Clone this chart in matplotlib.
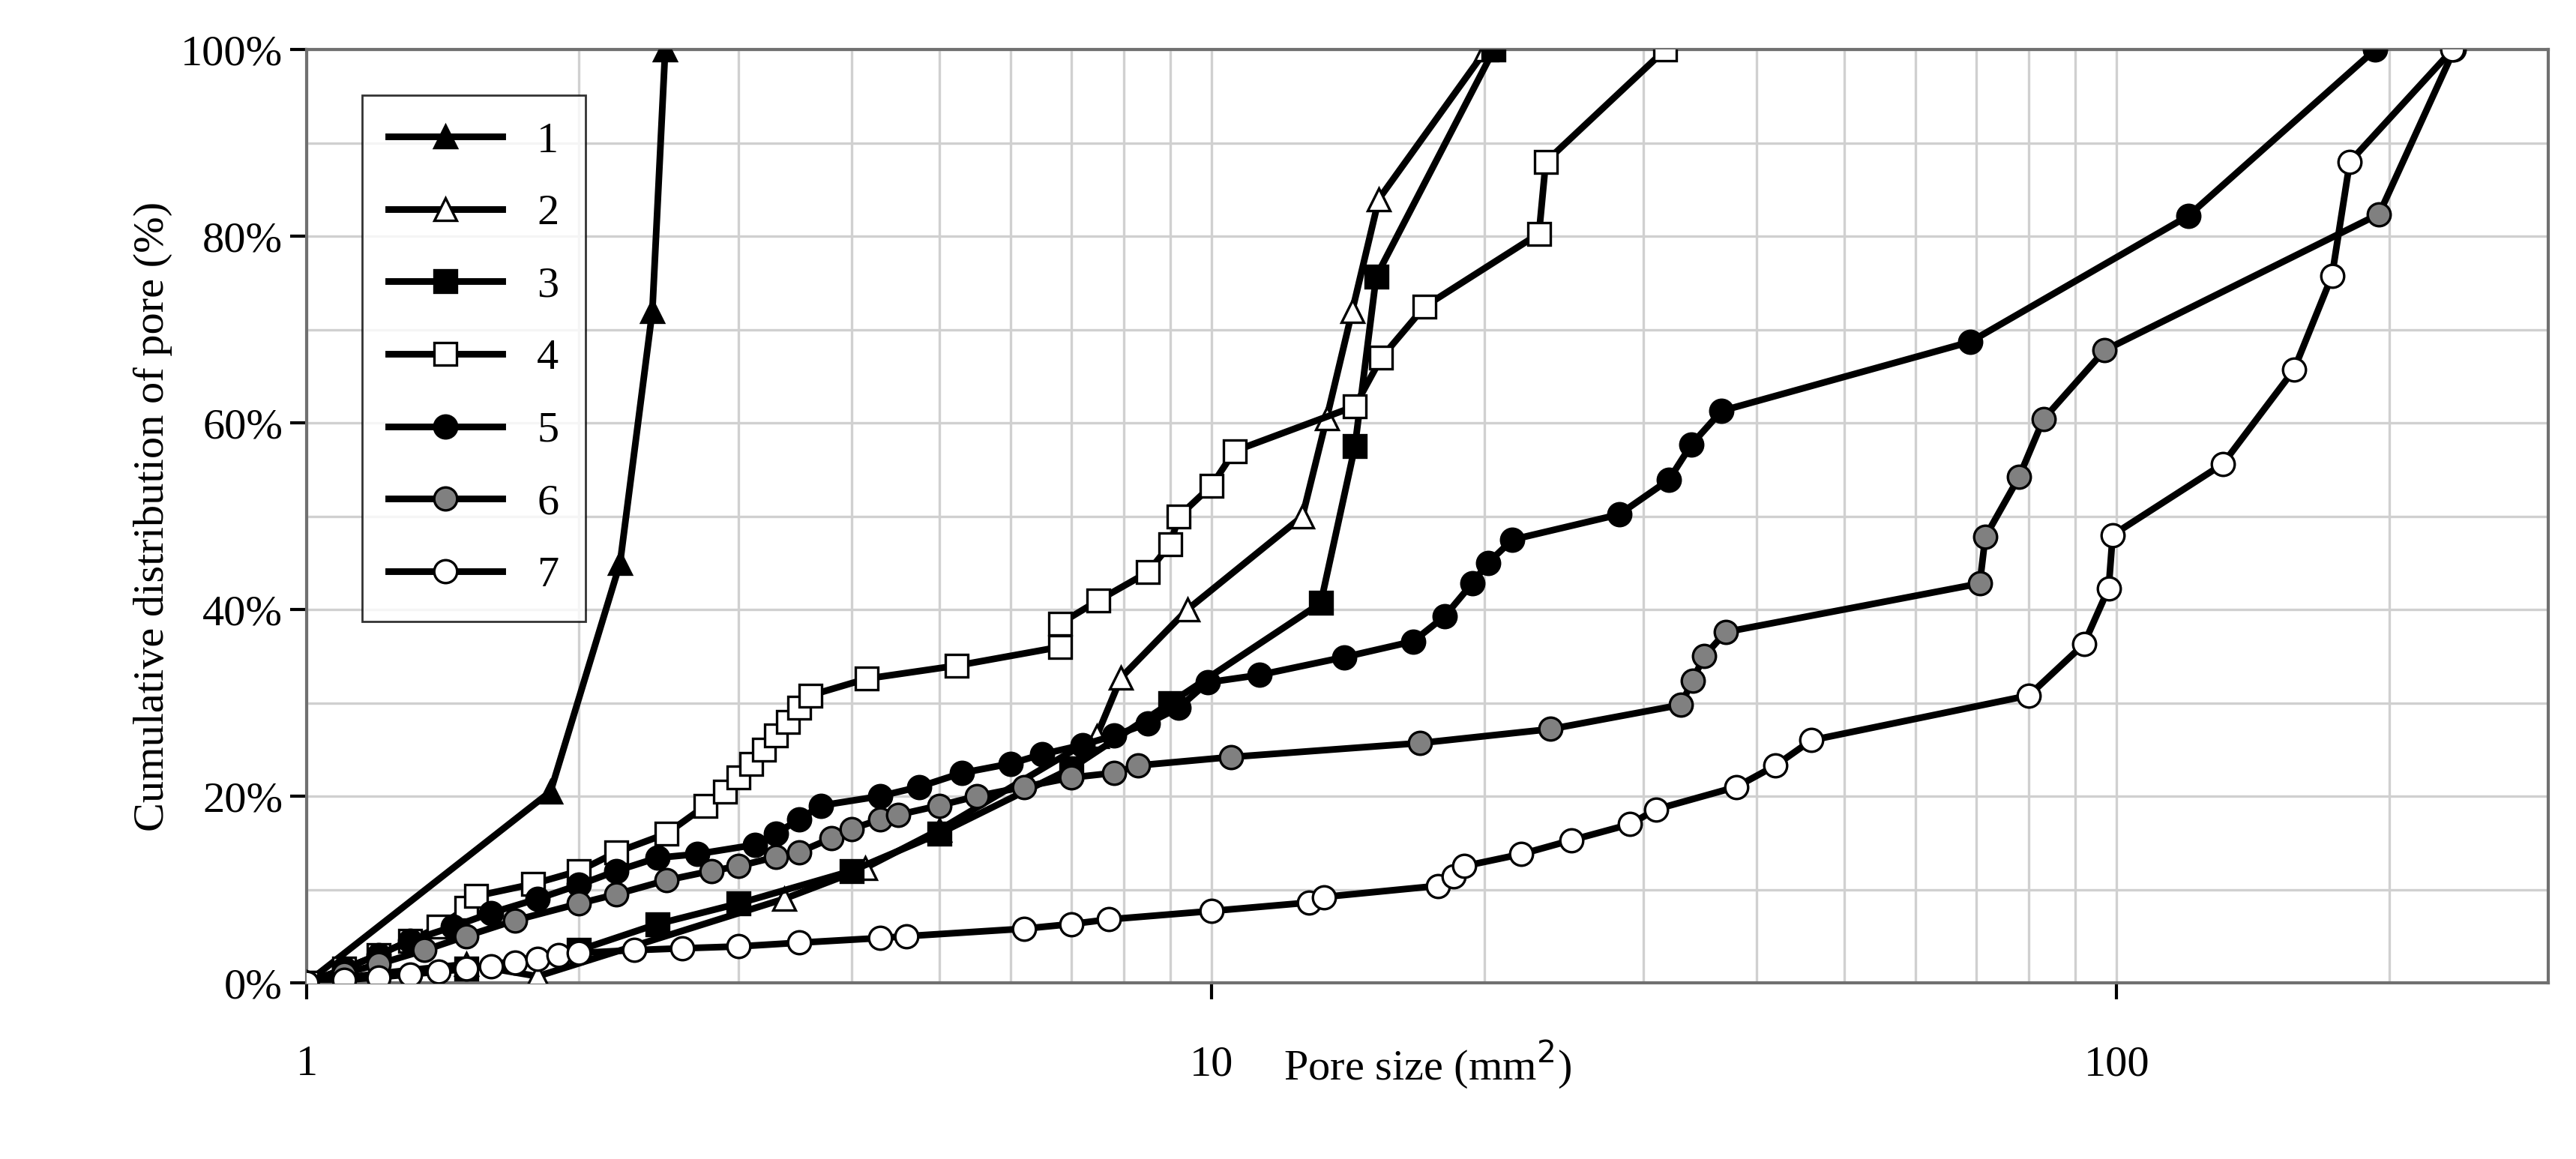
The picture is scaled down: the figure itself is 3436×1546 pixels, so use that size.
import numpy as np
import matplotlib.pyplot as plt
from matplotlib.ticker import FixedLocator, NullFormatter, FuncFormatter

# series data: pore size (mm2), cumulative %
x1 = [1, 1.86, 2.22, 2.41, 2.49]
y1 = [0, 20.5, 45, 72, 100]

x2 = [1, 1.2, 1.5, 1.8, 3.37, 4.14, 5.0, 7.46, 7.94, 9.4, 12.6, 13.4, 14.3, 15.3, 20.1]
y2 = [0, 1.0, 2.0, 0.7, 9.0, 12.3, 16.4, 26.4, 32.7, 40, 50, 60.5, 72, 84, 100]

x3 = [1, 1.5, 2.0, 2.44, 3.0, 4.0, 5.0, 7.0, 9.0, 13.2, 14.4, 15.2, 20.5]
y3 = [0, 1.5, 3.5, 6.3, 8.5, 12, 16, 23, 30, 40.7, 57.5, 75.7, 100]

x4 = [1, 1.1, 1.2, 1.3, 1.4, 1.5, 1.54, 1.78, 2.0, 2.2, 2.5, 2.76, 2.9, 3.0, 3.1,
      3.2, 3.3, 3.4, 3.5, 3.6, 4.16, 5.23, 6.8, 6.8, 7.5, 8.5, 9.0, 9.2, 10.0, 10.6,
      14.4, 15.4, 17.2, 23.0, 23.4, 31.7]
y4 = [0, 1.5, 3, 4.5, 6, 8, 9.3, 10.6, 12, 14, 16, 19, 20.5, 22, 23.5,
      25, 26.5, 28, 29.5, 30.8, 32.6, 34, 36, 38.5, 41, 44, 47, 50, 53.3, 57,
      61.8, 67, 72.5, 80.3, 88, 100]

x5 = [1, 1.1, 1.2, 1.3, 1.45, 1.6, 1.8, 2.0, 2.2, 2.44, 2.7, 3.13, 3.3, 3.5, 3.7,
      4.3, 4.75, 5.3, 6.0, 6.5, 7.2, 7.8, 8.5, 9.2, 9.9, 11.3, 14.0, 16.7, 18.1,
      19.4, 20.2, 21.5, 28.2, 32.0, 33.9, 36.6, 68.9, 120, 193]
y5 = [0, 1.5, 3, 4.5, 6, 7.5, 9, 10.5, 12, 13.4, 13.8, 14.8, 16, 17.5, 19,
      20, 21, 22.5, 23.5, 24.5, 25.5, 26.5, 27.8, 29.5, 32.2, 33, 34.9, 36.6, 39.3,
      42.8, 45, 47.5, 50.2, 53.9, 57.7, 61.3, 68.7, 82.2, 100]

x6 = [1, 1.1, 1.2, 1.35, 1.5, 1.7, 2.0, 2.2, 2.5, 2.8, 3.0, 3.3, 3.5, 3.8, 4.0,
      4.3, 4.5, 5.0, 5.5, 6.2, 7.0, 7.8, 8.3, 10.5, 17, 23.7, 33, 34, 35, 37,
      70.6, 71.6, 78, 83, 97, 195, 236]
y6 = [0, 1, 2, 3.5, 5, 6.7, 8.5, 9.5, 11, 12, 12.5, 13.5, 14, 15.5, 16.5,
      17.5, 18, 19, 20, 21, 22, 22.5, 23.3, 24.2, 25.7, 27.2, 29.8, 32.4, 35, 37.6,
      42.8, 47.8, 54.2, 60.4, 67.8, 82.4, 100]

x7 = [1, 1.1, 1.2, 1.3, 1.4, 1.5, 1.6, 1.7, 1.8, 1.9, 2.0, 2.3, 2.6, 3.0, 3.5, 4.3,
      4.6, 6.2, 7.0, 7.7, 10, 12.8, 13.3, 17.8, 18.5, 19.0, 22, 25, 29, 31, 38,
      42, 46, 80, 92, 98, 99, 131, 157, 173, 181, 235]
y7 = [0, 0.3, 0.6, 0.9, 1.2, 1.5, 1.8, 2.2, 2.6, 3.0, 3.2, 3.5, 3.7, 3.9, 4.3, 4.8,
      5.0, 5.8, 6.3, 6.8, 7.7, 8.6, 9.2, 10.4, 11.4, 12.5, 13.8, 15.3, 17, 18.6, 21,
      23.3, 26, 30.8, 36.3, 42.3, 48, 55.6, 65.7, 75.8, 88, 100]

series = [
    ("1", x1, y1, "^", "black"),
    ("2", x2, y2, "^", "white"),
    ("3", x3, y3, "s", "black"),
    ("4", x4, y4, "s", "white"),
    ("5", x5, y5, "o", "black"),
    ("6", x6, y6, "o", "#808080"),
    ("7", x7, y7, "o", "white"),
]

plt.rcParams["font.family"] = ["Liberation Serif", "DejaVu Serif"]

fig = plt.figure(figsize=(17.185, 7.73), dpi=200)
ax = fig.add_axes([0.119, 0.152, 0.870, 0.805])

for name, xs, ys, mk, fc in series:
    ax.plot(xs, ys, color="black", lw=3.2, marker=mk, markersize=11,
            markerfacecolor=fc, markeredgecolor="black", markeredgewidth=1.2,
            label=name, zorder=3)

ax.set_xscale("log")
ax.set_xlim(1, 300)
ax.set_ylim(0, 100)
ax.xaxis.set_major_locator(FixedLocator([1, 10, 100]))
ax.xaxis.set_major_formatter(FuncFormatter(lambda v, p: f"{v:g}"))
ax.xaxis.set_minor_formatter(NullFormatter())
ax.yaxis.set_major_locator(FixedLocator(np.arange(0, 101, 20)))
ax.yaxis.set_minor_locator(FixedLocator(np.arange(10, 100, 20)))
ax.yaxis.set_major_formatter(FuncFormatter(lambda v, p: f"{v:.0f}%"))

ax.grid(True, which="both", color="#d0d0d0", lw=1.2, zorder=0)
ax.tick_params(axis="both", which="major", labelsize=21, length=8, width=1.5)
ax.tick_params(axis="x", which="major", pad=22)
ax.tick_params(axis="both", which="minor", length=0)
for s in ax.spines.values():
    s.set_color("#707070")
    s.set_linewidth(1.5)

ax.set_ylabel("Cumulative distribution of pore (%)", fontsize=21)
ax.set_xlabel("Pore size (mm$^2$)", fontsize=21, labelpad=-22)

leg = ax.legend(loc="upper left", bbox_to_anchor=(0.015, 0.975), fontsize=21,
                frameon=True, fancybox=False, edgecolor="black",
                handlelength=2.6, labelspacing=0.75, borderpad=0.6)
leg.get_frame().set_linewidth(1.0)

fig.savefig("out.png", dpi=200, facecolor="white")
